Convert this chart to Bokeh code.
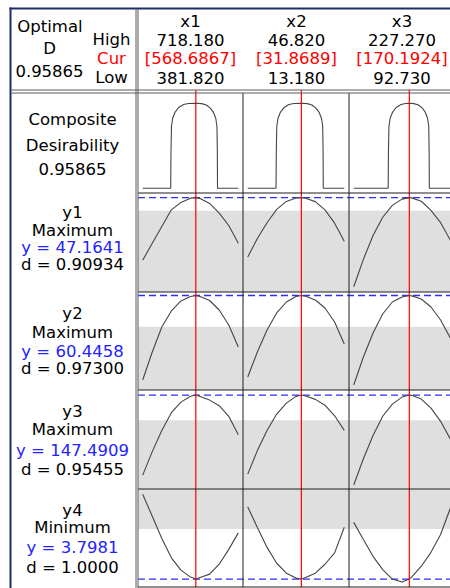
from bokeh.plotting import figure
from bokeh.models import Range1d
from bokeh.embed import file_html
from bokeh.resources import INLINE
from bokeh.core.properties import value

# ---------------- data ----------------
factor_names = ["x1", "x2", "x3"]
factor_high = [718.180, 46.820, 227.270]
factor_cur = [568.6867, 31.8689, 170.1924]
factor_low = [381.820, 13.180, 92.730]
high_text = ["718.180", "46.820", "227.270"]
cur_text = ["[568.6867]", "[31.8689]", "[170.1924]"]
low_text = ["381.820", "13.180", "92.730"]

composite_text = "0.95865"
response_names = ["y1", "y2", "y3", "y4"]
response_goals = ["Maximum", "Maximum", "Maximum", "Minimum"]
response_pred = [47.1641, 60.4458, 147.4909, 3.7981]
y_text = ["y = 47.1641", "y = 60.4458", "y = 147.4909", "y = 3.7981"]
d_text = ["d = 0.90934", "d = 0.97300", "d = 0.95455", "d = 1.0000"]

# factor settings at which the profiles were read
x1_settings = [381.82, 415.46, 449.09, 482.73, 516.36, 550.00, 568.6867, 583.64, 617.27, 650.91, 684.54, 718.18]
x2_settings = [13.18, 16.54, 19.91, 23.27, 26.64, 30.00, 31.8689, 33.36, 36.73, 40.09, 43.46, 46.82]
x3_settings = [92.73, 106.18, 119.64, 133.09, 146.55, 160.00, 170.1924, 173.45, 186.91, 200.36, 213.82, 227.27]

y1_x1 = [29.12, 34.05, 38.87, 43.66, 45.79, 47.02, 47.1641, 46.93, 45.51, 42.71, 39.15, 34.05]
y1_x2 = [30.06, 35.39, 39.95, 43.80, 46.08, 47.05, 47.1641, 46.99, 46.02, 43.66, 39.81, 34.62]
y1_x3 = [21.51, 29.41, 36.25, 41.52, 44.94, 46.73, 47.1641, 47.10, 46.13, 43.51, 39.95, 34.96]

y2_x1 = [28.75, 39.25, 48.63, 54.63, 58.38, 60.06, 60.4458, 60.06, 58.56, 55.00, 49.38, 41.13]
y2_x2 = [29.88, 39.25, 47.50, 53.88, 58.00, 60.06, 60.4458, 60.14, 58.75, 55.75, 50.50, 42.25]
y2_x3 = [26.88, 37.38, 46.38, 53.50, 58.00, 59.88, 60.4458, 60.29, 59.13, 56.13, 51.25, 44.50]

y3_x1 = [68.2, 91.5, 112.5, 130.0, 140.5, 146.3, 147.4909, 146.0, 142.5, 137.0, 126.5, 108.2]
y3_x2 = [69.2, 92.5, 112.5, 128.7, 139.5, 146.2, 147.4909, 146.5, 143.2, 137.5, 127.0, 112.5]
y3_x3 = [58.5, 84.5, 107.5, 126.5, 138.5, 145.5, 147.4909, 147.2, 143.5, 134.5, 121.5, 104.0]

y4_x1 = [12.37, 10.15, 7.90, 5.95, 4.70, 4.00, 3.7981, 3.95, 4.30, 5.30, 6.80, 8.47]
y4_x2 = [11.10, 9.00, 7.00, 5.40, 4.40, 3.90, 3.7981, 3.95, 4.40, 5.30, 6.45, 9.03]
y4_x3 = [9.53, 7.80, 6.10, 4.75, 3.80, 3.50, 3.7981, 4.00, 5.10, 6.50, 8.30, 10.95]

# composite desirability profiles
comp_x1 = [381.82, 480.4, 481.4, 483.1, 487.3, 496.0, 508.2, 525.6, 543.0, 568.6867,
           589.3, 605.7, 619.6, 630.1, 638.8, 643.0, 644.4, 645.1, 718.18]
comp_x2 = [13.18, 23.04, 23.14, 23.31, 23.73, 24.60, 25.82, 27.56, 29.30, 31.8689,
           33.93, 35.57, 36.96, 38.01, 38.88, 39.30, 39.44, 39.51, 46.82]
comp_x3 = [92.73, 140.71, 141.13, 141.82, 143.48, 146.94, 151.78, 158.69, 164.91, 170.1924,
           176.67, 182.89, 188.42, 192.29, 195.61, 197.27, 197.82, 198.10, 227.27]
comp_D = [0.0, 0.0, 0.42, 0.70, 0.79, 0.86, 0.911, 0.945, 0.956, 0.95865,
          0.955, 0.94, 0.905, 0.86, 0.79, 0.70, 0.42, 0.0, 0.0]

# vertical scale of each row (composite, y1..y4) and shaded band
row_y_min = [-0.053, 20.0, 25.0, 54.5, 3.0]
row_y_max = [1.075, 48.5, 61.75, 152.5, 12.9]
band_lo = [None, 20.0, 25.0, 54.5, 8.87]
band_hi = [None, 43.4, 48.7, 122.5, 12.9]

# ---------------- layout / style ----------------
FW, FH = 450, 588
FONT = value("DejaVu Sans")
FS = value("16.5px")
NAVY = "#1c2d6b"
SEP = "#1e1e1e"
DBL = "#5a5a5a"
CURVE = "#454545"
RED = "#ff0000"
BLUE_TXT = "#2323ff"
BLUE_LINE = "#2e2eff"
BAND = "#dfdfdf"

col_edges = [137.5, 242.5, 348.5, 454.5]
row_edges = [92.5, 192.5, 291.5, 389.5, 488.5, 586.5]
pad = 0.049

p = figure(width=FW, height=FH, x_range=Range1d(0, FW), y_range=Range1d(FH, 0),
           output_backend="svg", toolbar_location=None, min_border=0,
           x_axis_type=None, y_axis_type=None)
p.grid.visible = False
p.outline_line_color = None
p.background_fill_color = "white"
p.border_fill_color = "white"

x_src = []
for c in range(3):
    span = factor_high[c] - factor_low[c]
    x_src.append((factor_low[c] - pad * span, factor_high[c] + pad * span))

curves = [
    [(comp_x1, comp_D), (comp_x2, comp_D), (comp_x3, comp_D)],
    [(x1_settings, y1_x1), (x2_settings, y1_x2), (x3_settings, y1_x3)],
    [(x1_settings, y2_x1), (x2_settings, y2_x2), (x3_settings, y2_x3)],
    [(x1_settings, y3_x1), (x2_settings, y3_x2), (x3_settings, y3_x3)],
    [(x1_settings, y4_x1), (x2_settings, y4_x2), (x3_settings, y4_x3)],
]

def panel(r, c):
    return p.subplot(x_source=Range1d(*x_src[c]),
                     y_source=Range1d(row_y_min[r], row_y_max[r]),
                     x_target=Range1d(col_edges[c], col_edges[c + 1]),
                     y_target=Range1d(row_edges[r + 1], row_edges[r]))

# shaded bands
for r in range(5):
    if band_lo[r] is None:
        continue
    for c in range(3):
        sub = panel(r, c)
        sub.quad(left=[x_src[c][0]], right=[x_src[c][1]], bottom=[band_lo[r]], top=[band_hi[r]],
                 fill_color=BAND, line_color=None)

# predicted response (dashed)
for r in range(1, 5):
    rowsub = p.subplot(x_source=Range1d(0, FW), x_target=Range1d(0, FW),
                       y_source=Range1d(row_y_min[r], row_y_max[r]),
                       y_target=Range1d(row_edges[r + 1], row_edges[r]))
    rowsub.segment(x0=[col_edges[0]], x1=[FW], y0=[response_pred[r - 1]], y1=[response_pred[r - 1]],
                   line_color=BLUE_LINE, line_width=1.3, line_dash="7 4")

# curves
for r in range(5):
    for c in range(3):
        sub = panel(r, c)
        xs, ys = curves[r][c]
        sub.line(x=xs, y=ys, line_color=CURVE, line_width=1.1)

# current settings (red)
for c in range(3):
    colsub = p.subplot(x_source=Range1d(*x_src[c]), x_target=Range1d(col_edges[c], col_edges[c + 1]),
                       y_source=Range1d(0, FH), y_target=Range1d(0, FH))
    colsub.segment(x0=[factor_cur[c]], x1=[factor_cur[c]], y0=[89.5], y1=[row_edges[-1]],
                   line_color=RED, line_width=1.2)

# separators
p.segment(x0=[col_edges[0]] * 5, x1=[FW] * 5, y0=row_edges[1:], y1=row_edges[1:],
          line_color=SEP, line_width=1)
p.segment(x0=col_edges[1:3], x1=col_edges[1:3], y0=[row_edges[0]] * 2, y1=[row_edges[-1]] * 2,
          line_color=SEP, line_width=1)
# double lines
p.segment(x0=[135.5, 137.5], x1=[135.5, 137.5], y0=[9, 9], y1=[FH, FH], line_color=DBL, line_width=1)
p.segment(x0=[11, 11], x1=[FW, FW], y0=[89.5, 92.5], y1=[89.5, 92.5], line_color=DBL, line_width=1)
# frame
p.segment(x0=[9, 10], x1=[FW, 10], y0=[8, 7], y1=[8, FH], line_color=NAVY, line_width=2)

# ---------------- texts ----------------
def txt(xs, ys, texts, color="black"):
    p.text(x=xs, y=ys, text=texts, text_font=FONT, text_font_size=FS, text_align="center",
           text_baseline="middle", text_color=color)

txt([49.5, 49, 49], [26, 48, 70], ["Optimal", "D", composite_text])
txt([111, 111], [39, 77], ["High", "Low"])
txt([111], [58], ["Cur"], RED)

hdr_x = [190, 296, 401.5]
txt(hdr_x, [21] * 3, factor_names)
txt(hdr_x, [39.5] * 3, high_text)
txt(hdr_x, [58] * 3, cur_text, RED)
txt(hdr_x, [77] * 3, low_text)

lab_x = 72
txt([lab_x] * 3, [119, 145, 168], ["Composite", "Desirability", composite_text])
lab_y = [[212, 229.5, 247, 264],
         [313, 331.7, 350.7, 368.3],
         [410.7, 429.3, 450, 469.3],
         [510, 526.7, 547.3, 566.7]]
for i in range(4):
    ly = lab_y[i]
    txt([lab_x, lab_x], [ly[0], ly[1]], [response_names[i], response_goals[i]])
    txt([lab_x], [ly[2]], [y_text[i]], BLUE_TXT)
    txt([lab_x], [ly[3]], [d_text[i]])

open("out.html", "w").write(file_html(p, INLINE))
